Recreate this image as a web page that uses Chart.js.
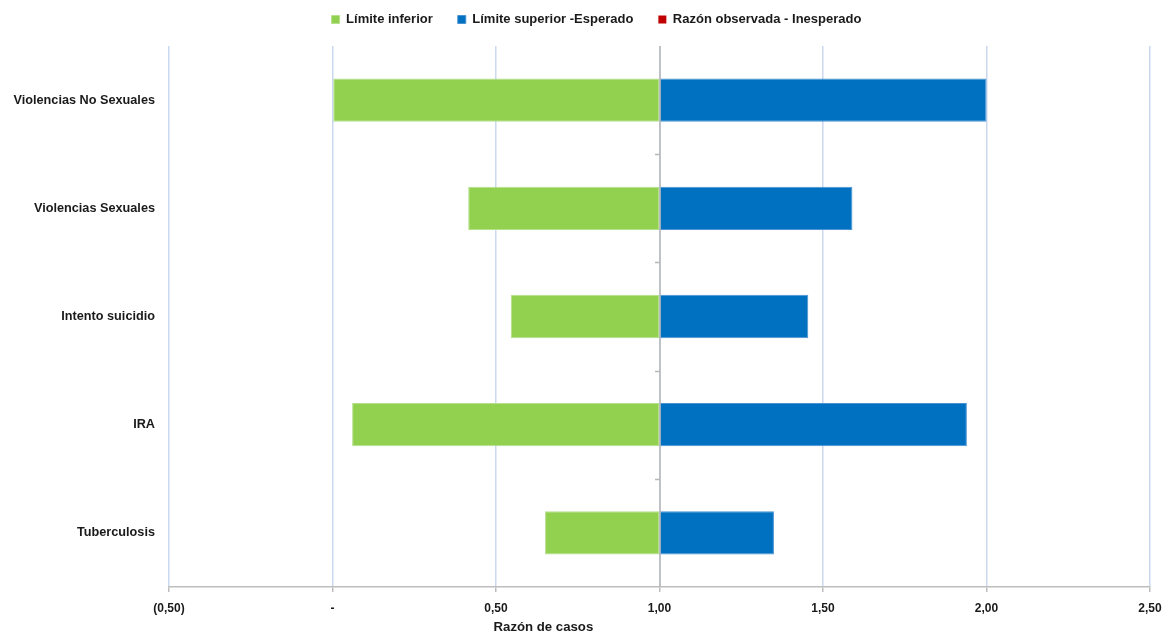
<!DOCTYPE html>
<html>
<head>
<meta charset="utf-8">
<script src="https://cdn.jsdelivr.net/npm/chart.js@4.4.1/dist/chart.umd.min.js"></script>
<style>
  html, body { margin: 0; padding: 0; background: #ffffff; }
  #wrap { width: 1162px; height: 637px; position: relative; }
</style>
</head>
<body>
<div id="wrap"><canvas id="chart"></canvas></div>
<script>
// Eventos y límites de la razón de casos
const categories = ['Violencias No Sexuales', 'Violencias Sexuales', 'Intento suicidio', 'IRA', 'Tuberculosis'];
const limiteInferior = [0.00, 0.415, 0.545, 0.06, 0.65];
const limiteSuperior = [2.00, 1.59, 1.455, 1.94, 1.35];
const razonObservada = [null, null, null, null, null];
const valorReferencia = 1.00;

const seriesNames = ['Límite inferior', 'Límite superior -Esperado', 'Razón observada - Inesperado'];
const xMin = -0.5, xMax = 2.5, xStep = 0.5;
const axisTitle = 'Razón de casos';

const FONT = "'Liberation Sans', Arial, sans-serif";
const TEXT = '#1a1a1a';

function fmt(v) {
  const r = Math.round(v * 100) / 100;
  if (r === 0) return '-';
  const s = Math.abs(r).toFixed(2).replace('.', ',');
  return r < 0 ? '(' + s + ')' : s;
}

// vertical axis drawn at the reference value, over the bars
const refAxis = {
  id: 'refAxis',
  afterDatasetsDraw(chart) {
    const { ctx, chartArea: a, scales: { x, y } } = chart;
    const px = Math.round(x.getPixelForValue(valorReferencia));
    ctx.save();
    ctx.strokeStyle = '#b8b8b8';
    ctx.lineWidth = 1.5;
    ctx.beginPath();
    ctx.moveTo(px, a.top);
    ctx.lineTo(px, a.bottom);
    for (let i = 1; i < categories.length; i++) {
      const yy = Math.round((y.getPixelForValue(i - 1) + y.getPixelForValue(i)) / 2) + 0.5;
      ctx.moveTo(px - 5, yy);
      ctx.lineTo(px, yy);
    }
    ctx.stroke();
    ctx.restore();
  }
};

// axis title under the tick labels
const xTitle = {
  id: 'xTitle',
  afterDraw(chart) {
    const { ctx, scales: { x } } = chart;
    ctx.save();
    ctx.font = 'bold 13.2px ' + FONT;
    ctx.fillStyle = TEXT;
    ctx.textAlign = 'center';
    ctx.textBaseline = 'middle';
    ctx.fillText(axisTitle, x.getPixelForValue(0.645), chart.height - 10);
    ctx.restore();
  }
};

// fixed legend band height, legend row nudged right
const legendBand = {
  id: 'legendBand',
  beforeInit(chart) {
    const legend = chart.legend;
    const fit = legend.fit;
    legend.fit = function () {
      fit.call(this);
      this.height = 58;
    };
    const draw = legend.draw;
    legend.draw = function () {
      const ctx = this.ctx;
      ctx.save();
      ctx.translate(9, 0);
      draw.call(this);
      ctx.restore();
    };
  }
};

new Chart(document.getElementById('chart'), {
  type: 'bar',
  data: {
    labels: categories,
    datasets: [
      {
        label: seriesNames[0],
        data: limiteInferior.map(v => [v, valorReferencia]),
        backgroundColor: '#92d050',
        borderColor: '#b5e08c',
        borderWidth: 1,
        borderSkipped: false,
        grouped: false
      },
      {
        label: seriesNames[1],
        data: limiteSuperior.map(v => [valorReferencia, v]),
        backgroundColor: '#0070c0',
        borderColor: '#4a93d2',
        borderWidth: 1,
        borderSkipped: false,
        grouped: false
      },
      {
        label: seriesNames[2],
        data: razonObservada,
        backgroundColor: '#c00000',
        borderWidth: 0,
        grouped: false
      }
    ]
  },
  options: {
    indexAxis: 'y',
    responsive: true,
    maintainAspectRatio: false,
    devicePixelRatio: 1,
    animation: false,
    layout: { padding: { top: -12, left: 13, right: 0, bottom: 0 } },
    datasets: { bar: { barPercentage: 0.4, categoryPercentage: 1 } },
    plugins: {
      legend: {
        position: 'top',
        labels: {
          boxWidth: 8,
          boxHeight: 8,
          padding: 25,
          color: TEXT,
          font: { family: FONT, size: 13, weight: 'bold' }
        }
      },
      tooltip: { enabled: false }
    },
    scales: {
      x: {
        type: 'linear',
        min: xMin,
        max: xMax,
        afterFit(s) {
          s.height = 50;
          s.paddingLeft = 0;
          s.paddingRight = 12;
        },
        ticks: {
          stepSize: xStep,
          padding: 9,
          color: TEXT,
          font: { family: FONT, size: 12, weight: 'bold' },
          callback: v => fmt(v),
          maxRotation: 0
        },
        grid: {
          color: '#cad8f0',
          lineWidth: 1.5,
          tickColor: '#bdbdbd',
          tickLength: 5
        },
        border: { display: true, color: '#bdbdbd', width: 1.5 }
      },
      y: {
        type: 'category',
        afterFit(s) { s.width = 156; },
        ticks: {
          padding: 14,
          color: TEXT,
          font: { family: FONT, size: 12.7, weight: 'bold' }
        },
        grid: { display: false, drawTicks: false },
        border: { display: false }
      }
    }
  },
  plugins: [refAxis, xTitle, legendBand]
});
</script>
</body>
</html>
